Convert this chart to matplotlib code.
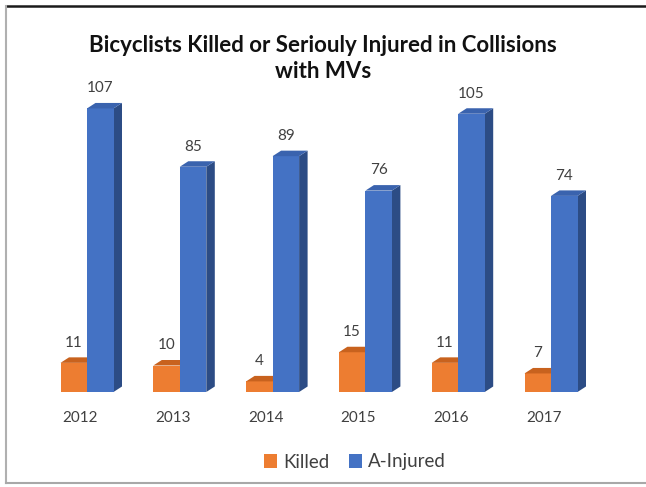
import matplotlib.pyplot as plt
from matplotlib.patches import Polygon, Patch
from matplotlib.lines import Line2D

# chart data
years = ["2012", "2013", "2014", "2015", "2016", "2017"]
killed = [11, 10, 4, 15, 11, 7]
injured = [107, 85, 89, 76, 105, 74]
series_names = ["Killed", "A-Injured"]

# colours: front, top, side
orange = ("#ED7D31", "#C8621E", "#B45A1F")
blue = ("#4472C4", "#3A63AE", "#2C4C85")

W, H = 646, 487
fig = plt.figure(figsize=(W / 100, H / 100), dpi=100)
plt.rcParams['font.family'] = ['Lato', 'DejaVu Sans']

# axes spans the whole figure, limits chosen so 1 group = 92.8 px, 1 unit = 2.65 px
ax = fig.add_axes([0, 0, 1, 1])
px_grp = 92.8
px_val = 2.65
x0, y0 = 87, 392  # pixel of first group centre / baseline
ax.set_xlim((0 - x0) / px_grp, (W - x0) / px_grp)
ax.set_ylim((y0 - H) / px_val, y0 / px_val)
ax.axis("off")

bw = 26.5 / px_grp
dx = 8.5 / px_grp
dy = 5.5 / px_val


def bar3d(xl, v, cols):
    front, top, side = cols
    ax.bar(xl, v, width=bw, align="edge", color=front, linewidth=0, zorder=2)
    ax.add_patch(Polygon([(xl, v), (xl + bw, v), (xl + bw + dx, v + dy), (xl + dx, v + dy)],
                         closed=True, facecolor=top, edgecolor="none", zorder=2))
    ax.add_patch(Polygon([(xl + bw, 0), (xl + bw + dx, dy), (xl + bw + dx, v + dy), (xl + bw, v)],
                         closed=True, facecolor=side, edgecolor="none", zorder=1.5))


for i in range(len(years)):
    bar3d(i - bw, killed[i], orange)
    bar3d(i, injured[i], blue)
    ax.text(i - bw / 2, killed[i] + 7.6, str(killed[i]), ha="center", va="center",
            fontsize=11, color="#404040")
    ax.text(i + bw / 2, injured[i] + 7.6, str(injured[i]), ha="center", va="center",
            fontsize=11, color="#404040")
    ax.text(i - 0.075, (y0 - 418) / px_val, years[i], ha="center", va="center",
            fontsize=11, color="#404040")

fig.text(0.5, 1 - 45 / H, "Bicyclists Killed or Seriouly Injured in Collisions",
         ha="center", va="center", fontsize=16, fontweight="bold", color="#111111")
fig.text(0.5, 1 - 72 / H, "with MVs",
         ha="center", va="center", fontsize=16, fontweight="bold", color="#111111")

handles = [Patch(facecolor=orange[0]), Patch(facecolor=blue[0])]
fig.legend(handles, series_names, loc="center", bbox_to_anchor=(355 / W, 1 - 462 / H),
           ncol=2, frameon=False, fontsize=13.5, handlelength=0.7, handleheight=0.7,
           handletextpad=0.35, columnspacing=1.0, labelcolor="#404040")

# frame of the screenshot
fig.add_artist(Line2D([6 / W, 1], [1 - 6 / H, 1 - 6 / H], color="#1a1a1a", lw=1.8))
fig.add_artist(Line2D([6 / W, 6 / W], [1 - 6 / H, 1 - 483 / H], color="#b0b0b0", lw=1.5))
fig.add_artist(Line2D([6 / W, 1], [1 - 483 / H, 1 - 483 / H], color="#a8a8a8", lw=1.5))

fig.savefig("out.png", dpi=100)
